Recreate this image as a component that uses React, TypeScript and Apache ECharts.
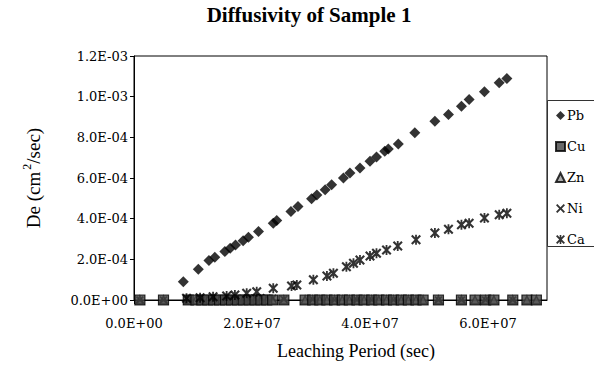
import React, { useEffect, useRef } from "react";
import * as echarts from "echarts";

// Leaching period (sec) and effective diffusivity De (cm^2/sec)
const pbX = [8.36e6, 10.9e6, 12.7e6, 13.7e6, 15.4e6, 16.3e6, 17.2e6, 18.5e6, 19.4e6, 21.1e6, 23.6e6, 24.2e6, 26.6e6, 27.8e6, 30.1e6, 31.0e6, 32.4e6, 33.5e6, 35.5e6, 36.6e6, 38.3e6, 40.0e6, 41.1e6, 42.5e6, 43.1e6, 44.8e6, 47.6e6, 51.0e6, 53.3e6, 55.5e6, 56.8e6, 59.4e6, 61.9e6, 63.2e6];
const pbY = [9.0e-5, 1.51e-4, 1.94e-4, 2.1e-4, 2.38e-4, 2.55e-4, 2.71e-4, 2.92e-4, 3.09e-4, 3.37e-4, 3.78e-4, 3.91e-4, 4.35e-4, 4.6e-4, 4.98e-4, 5.17e-4, 5.42e-4, 5.67e-4, 6.0e-4, 6.24e-4, 6.49e-4, 6.82e-4, 7.03e-4, 7.31e-4, 7.43e-4, 7.67e-4, 8.22e-4, 8.79e-4, 9.12e-4, 9.53e-4, 9.86e-4, 1.024e-3, 1.068e-3, 1.089e-3];

const caX = [8.9e6, 11.2e6, 13.4e6, 15.7e6, 17.1e6, 19.1e6, 20.8e6, 23.6e6, 26.7e6, 27.6e6, 30.4e6, 32.7e6, 33.8e6, 36.0e6, 37.2e6, 38.3e6, 40.0e6, 41.1e6, 42.8e6, 44.7e6, 47.8e6, 51.0e6, 53.3e6, 55.5e6, 56.8e6, 59.4e6, 61.9e6, 63.2e6];
const caY = [8e-6, 1.1e-5, 1.6e-5, 2.0e-5, 2.5e-5, 3.3e-5, 4.1e-5, 5.8e-5, 6.9e-5, 7.4e-5, 9.9e-5, 1.18e-4, 1.32e-4, 1.64e-4, 1.81e-4, 1.97e-4, 2.17e-4, 2.3e-4, 2.46e-4, 2.66e-4, 2.96e-4, 3.29e-4, 3.48e-4, 3.7e-4, 3.78e-4, 4.03e-4, 4.19e-4, 4.27e-4];

const cuX = [1.0e6, 5.0e6, 9.2e6, 10.5e6, 11.5e6, 12.5e6, 13.5e6, 14.5e6, 15.5e6, 16.5e6, 17.5e6, 18.5e6, 19.5e6, 20.5e6, 21.5e6, 22.5e6, 23.5e6, 25.4e6, 29.0e6, 30.3e6, 31.5e6, 32.7e6, 34.0e6, 35.3e6, 36.5e6, 37.8e6, 39.0e6, 40.3e6, 41.5e6, 42.8e6, 44.0e6, 45.3e6, 46.5e6, 47.8e6, 49.0e6, 51.6e6, 55.5e6, 57.8e6, 59.6e6, 61.0e6, 64.2e6, 66.6e6, 68.2e6];
const cuY = cuX.map(() => 0);
const znX = cuX;
const znY = cuX.map(() => 0);
const niX = [1.0e6, 5.0e6, 9.2e6, 11.5e6, 13.5e6, 15.5e6, 17.5e6, 19.5e6, 21.5e6, 23.5e6, 25.4e6, 30.3e6, 34.0e6, 37.8e6, 40.3e6, 44.0e6, 51.6e6, 55.5e6, 59.6e6, 64.2e6];
const niY = [0, 0, 0, 2e-6, 4e-6, 6e-6, 8e-6, 1.0e-5, 1.2e-5, 8e-6, 4e-6, 2e-6, 0, 0, 0, 0, 0, 0, 0, 0];

const seriesNames = ["Pb", "Cu", "Zn", "Ni", "Ca"];
const xTicks = { min: 0, max: 7e7, interval: 2e7 };
const yTicks = { min: 0, max: 1.2e-3, interval: 2e-4 };

const SERIF = "'Liberation Serif', 'Times New Roman', serif";
const TICKFONT = "'DejaVu Serif', serif";

const X_SYMBOL = "path://M0,1.5L1.5,0L5,3.5L8.5,0L10,1.5L6.5,5L10,8.5L8.5,10L5,6.5L1.5,10L0,8.5L3.5,5Z";
const STAR_SYMBOL = "path://M0,1.5L1.5,0L5,3.5L8.5,0L10,1.5L6.5,5L10,8.5L8.5,10L5,6.5L1.5,10L0,8.5L3.5,5ZM4.1,0L5.9,0L5.9,10L4.1,10Z";

function sci(v: number): string {
  const [m, e] = v.toExponential(1).split("e");
  const sign = e[0] === "-" ? "-" : "+";
  const digits = e.replace(/[+-]/, "").padStart(2, "0");
  return m + "E" + sign + digits;
}

function pairs(xs: number[], ys: number[]) {
  return xs.map((x, i) => [x, ys[i]]);
}

export default function App() {
  const ref = useRef<HTMLDivElement>(null);
  useEffect(() => {
    if (!ref.current) return;
    const chart = echarts.init(ref.current, null, { renderer: "svg" });
    chart.setOption({
      animation: false,
      backgroundColor: "#fff",
      grid: {
        left: 134,
        right: 47,
        top: 56,
        bottom: 77,
        show: true,
        borderColor: "#000",
        borderWidth: 1,
      },
      xAxis: {
        type: "value",
        min: xTicks.min,
        max: xTicks.max,
        interval: xTicks.interval,
        axisLine: { show: true, lineStyle: { color: "#000", width: 1 } },
        axisTick: { show: true, length: 4, lineStyle: { color: "#000" } },
        splitLine: { show: false },
        axisLabel: {
          formatter: (v: number) => sci(v),
          showMaxLabel: false,
          color: "#000",
          fontFamily: TICKFONT,
          fontSize: 13,
          margin: 17,
        },
      },
      yAxis: {
        type: "value",
        min: yTicks.min,
        max: yTicks.max,
        interval: yTicks.interval,
        axisLine: { show: true, lineStyle: { color: "#000", width: 1 } },
        axisTick: { show: true, length: 4, lineStyle: { color: "#000" } },
        splitLine: { show: false },
        axisLabel: {
          formatter: (v: number) => sci(v),
          color: "#000",
          fontFamily: TICKFONT,
          fontSize: 13,
          margin: 6,
        },
      },
      legend: {
        orient: "vertical",
        left: 550,
        top: 104,
        itemWidth: 9,
        itemHeight: 9,
        itemGap: 18,
        data: seriesNames,
        textStyle: { color: "#000", fontFamily: TICKFONT, fontSize: 13, padding: [-4, 0, 0, -3] },
      },
      graphic: [
        {
          type: "rect",
          shape: { x: 547.5, y: 100.5, width: 60, height: 146 },
          style: { fill: "none", stroke: "#333", lineWidth: 1 },
          silent: true,
        },
        {
          type: "text",
          x: 309,
          y: 15,
          style: {
            text: "Diffusivity of Sample 1",
            font: "bold 21px " + SERIF,
            fill: "#000",
            textAlign: "center",
            textVerticalAlign: "middle",
          },
        },
        {
          type: "text",
          x: 356,
          y: 351,
          style: {
            text: "Leaching Period (sec)",
            font: "18px " + SERIF,
            fill: "#000",
            textAlign: "center",
            textVerticalAlign: "middle",
          },
        },
        {
          type: "text",
          x: 33,
          y: 178,
          rotation: Math.PI / 2,
          style: {
            text: "De (cm{sup|2}/sec)",
            font: "19px " + SERIF,
            fill: "#000",
            textAlign: "center",
            textVerticalAlign: "middle",
            rich: {
              sup: { fontSize: 12, fontFamily: SERIF, padding: [0, 0, 12, 2] },
            },
          },
        },
      ],
      series: [
        {
          name: "Pb",
          type: "scatter",
          symbol: "diamond",
          symbolSize: 11,
          itemStyle: { color: "#000" },
          data: pairs(pbX, pbY),
          z: 6,
        },
        {
          name: "Cu",
          type: "scatter",
          symbol: "rect",
          symbolSize: 10,
          itemStyle: { color: "#444", borderColor: "#000", borderWidth: 1.2 },
          data: pairs(cuX, cuY),
          z: 5,
        },
        {
          name: "Zn",
          type: "scatter",
          symbol: "triangle",
          symbolSize: 8,
          itemStyle: { color: "#999", borderColor: "#000", borderWidth: 1.5 },
          data: pairs(znX, znY),
          z: 3,
        },
        {
          name: "Ni",
          type: "scatter",
          symbol: X_SYMBOL,
          symbolSize: 8,
          itemStyle: { color: "#000" },
          data: pairs(niX, niY),
          z: 4,
        },
        {
          name: "Ca",
          type: "scatter",
          symbol: STAR_SYMBOL,
          symbolSize: 10,
          itemStyle: { color: "#000" },
          data: pairs(caX, caY),
          z: 6,
        },
      ],
    });
    return () => chart.dispose();
  }, []);
  return (
    <div
      ref={ref}
      style={{ position: "absolute", left: 0, top: 0, width: 594, height: 377 }}
    />
  );
}
